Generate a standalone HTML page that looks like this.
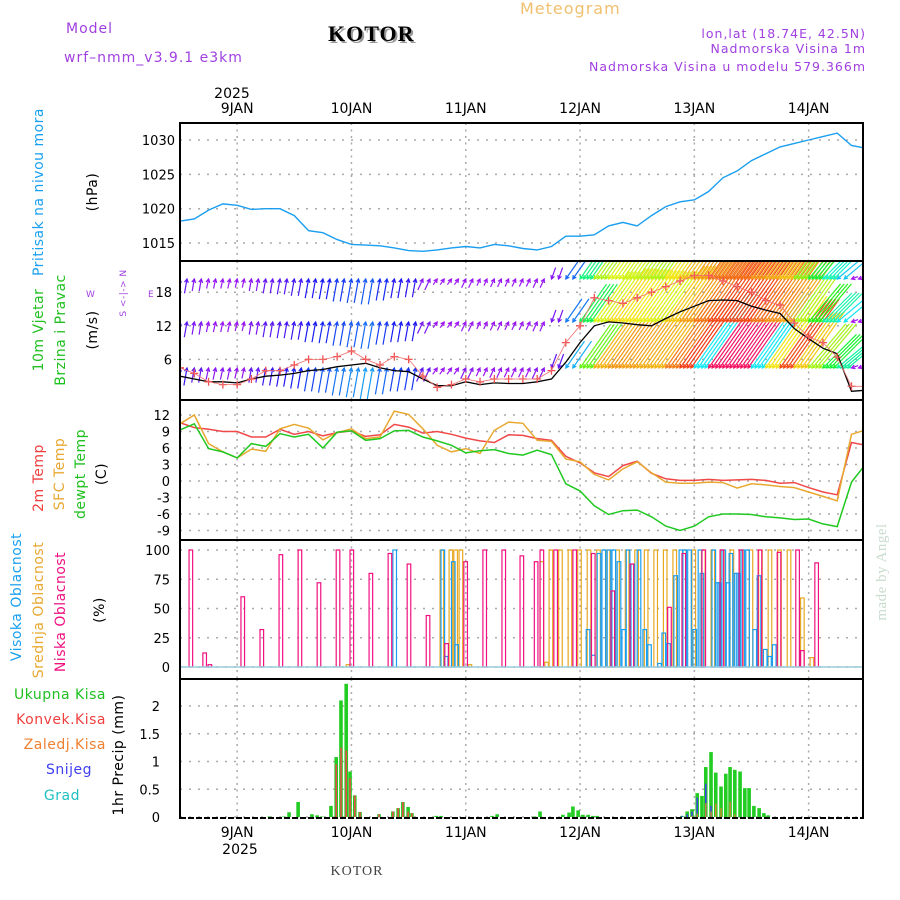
<!DOCTYPE html>
<html><head><meta charset="utf-8"><style>
html,body{margin:0;padding:0;background:#fff;}
svg{display:block;font-family:"DejaVu Sans","Liberation Sans",sans-serif;}
</style></head><body>
<svg id="chart" width="900" height="900" viewBox="0 0 900 900" xmlns="http://www.w3.org/2000/svg">
<g font-size="14" fill="#a040e0" letter-spacing="1">
<text x="66" y="33">Model</text>
<text x="64" y="62">wrf–nmm_v3.9.1  e3km</text>
<text x="330" y="43" font-family="Liberation Serif,serif" font-weight="bold" font-size="22" fill="#999">KOTOR</text>
<text x="328" y="41" font-family="Liberation Serif,serif" font-weight="bold" font-size="22" fill="#000">KOTOR</text>
<text x="520" y="14" font-size="16" fill="#f0c070">Meteogram</text>
<text x="866" y="38" text-anchor="end" font-size="12.5">lon,lat (18.74E, 42.5N)</text>
<text x="866" y="53" text-anchor="end" font-size="12.5">Nadmorska Visina 1m</text>
<text x="866" y="71" text-anchor="end" font-size="12.5">Nadmorska Visina u modelu 579.366m</text>
</g>
<g id="grid"></g>
<g id="marks"></g>
<g id="axes"></g>
<g font-size="14" letter-spacing="0.5">
<text transform="translate(43,192) rotate(-90)" text-anchor="middle" fill="#1aa0f0">Pritisak na nivou mora</text>
<text transform="translate(97,192) rotate(-90)" text-anchor="middle" fill="#000">(hPa)</text>
<text transform="translate(43,330) rotate(-90)" text-anchor="middle" fill="#20c020">10m Vjetar</text>
<text transform="translate(65,330) rotate(-90)" text-anchor="middle" fill="#20c020">Brzina i Pravac</text>
<text transform="translate(97,330) rotate(-90)" text-anchor="middle" fill="#000">(m/s)</text>
<text transform="translate(126,293) rotate(-90)" text-anchor="middle" fill="#a040e0" font-size="9">S &lt;-|-&gt; N</text>
<text x="86" y="297" fill="#a040e0" font-size="9">W</text>
<text x="148" y="297" fill="#a040e0" font-size="9">E</text>
<text transform="translate(43,478) rotate(-90)" text-anchor="middle" fill="#f04040">2m Temp</text>
<text transform="translate(64,474) rotate(-90)" text-anchor="middle" fill="#e8a830">SFC Temp</text>
<text transform="translate(85,474) rotate(-90)" text-anchor="middle" fill="#20c020">dewpt Temp</text>
<text transform="translate(106,474) rotate(-90)" text-anchor="middle" fill="#000">(C)</text>
<text transform="translate(21,597) rotate(-90)" text-anchor="middle" fill="#1aa0f0">Visoka Oblacnost</text>
<text transform="translate(43,610) rotate(-90)" text-anchor="middle" fill="#e8a830">Srednja Oblacnost</text>
<text transform="translate(65,612) rotate(-90)" text-anchor="middle" fill="#f01080">Niska Oblacnost</text>
<text transform="translate(104,610) rotate(-90)" text-anchor="middle" fill="#000">(%)</text>
<text transform="translate(123,755) rotate(-90)" text-anchor="middle" fill="#000">1hr Precip (mm)</text>
<text x="106" y="699" text-anchor="end" fill="#20c020">Ukupna Kisa</text>
<text x="106" y="724" text-anchor="end" fill="#f04040">Konvek.Kisa</text>
<text x="106" y="749" text-anchor="end" fill="#f08030">Zaledj.Kisa</text>
<text x="92" y="774" text-anchor="end" fill="#4040f0">Snijeg</text>
<text x="80" y="800" text-anchor="end" fill="#20c0c0">Grad</text>
<text transform="translate(886,572) rotate(-90)" text-anchor="middle" fill="#c8dccc" font-family="Liberation Serif,serif" font-size="15">made by Angel</text>
<text x="357" y="875" text-anchor="middle" fill="#444" font-family="Liberation Serif,serif" font-size="14" letter-spacing="1">KOTOR</text>
</g>
</svg>
<script>
// ---- data (3-hourly, from 8 JAN 12Z) ----
const dayLabels = ["9JAN","10JAN","11JAN","12JAN","13JAN","14JAN"];
const pressure = [1018.2,1018.5,1019.8,1020.7,1020.5,1019.9,1020.0,1020.0,1019.0,1016.8,1016.5,1015.5,1014.8,1014.7,1014.6,1014.3,1013.9,1013.8,1014.0,1014.3,1014.5,1014.3,1014.8,1014.6,1014.2,1014.0,1014.5,1016.0,1016.0,1016.2,1017.5,1018.0,1017.5,1019.0,1020.3,1021.0,1021.3,1022.5,1024.5,1025.5,1027.0,1028.0,1029.0,1029.5,1030.0,1030.5,1031.0,1029.2,1028.8];
const pressureTicks = [1015,1020,1025,1030];
const windSpeed = [3,2.5,2,2,1.8,2.5,3,3.2,3.5,4,4.2,4.7,5,5.3,4.5,4,3.8,2.5,1.3,1.3,2,1.5,1.8,1.7,1.7,2,2.5,5.5,9,12,12.7,12.5,12.2,12,13.3,14.5,15.5,16.5,16.6,16.5,15.5,14.8,14.2,11.5,9.7,8,7,0.3,0.5];
const windGust = [4.5,3.5,2,1.5,1.5,2.5,4,4,5,6,6,6.5,7.5,6,5,6.5,6,3,1,1.5,2.5,2,2.5,2.5,2.5,2.5,4,9,12,17,16.5,16,17,18,19,20,21,21,20,19,18,16.5,15.7,12.5,10,9,6.4,1.2,1.2];
const windDir = [10,10,12,12,12,10,10,10,10,10,10,10,10,10,10,10,10,25,35,35,25,25,25,25,25,25,200,215,215,215,215,215,215,215,215,215,215,215,215,215,215,215,215,215,220,225,230,250,255];
const windTicks = [6,12,18];
const t2 = [10.6,9.7,9.4,9,9,8,8,9.4,8.5,9,8.2,8.8,9.1,8.1,8.4,10.3,9.8,8.7,9,8.5,7.8,7.3,7,8.4,8.3,7.7,7.4,4.5,3.3,1.5,0.8,2.8,3.6,1.4,0.4,0.1,0.1,0.3,0.1,0.2,0.3,0.1,-0.4,-0.3,-1.2,-2,-2.5,7,6.5];
const tSfc = [10.4,12,6.8,5.3,4.2,5.8,5.4,9.5,10.3,9.6,7.5,8.8,9.5,7.7,8,12.7,12.1,9.5,6.5,5.3,5.9,5,9.2,10.7,10.5,7.4,7.2,4,3.5,1.2,0.2,2.2,3.5,1.5,-0.2,-0.4,-0.4,-0.2,-0.3,-1.3,-0.5,-0.7,-1,-1.2,-2,-2.8,-3.6,8.5,9.3];
const tDew = [9.3,10.4,5.9,5.3,4.2,6.8,6.3,8.6,8,8.5,6,8.9,9.1,7.4,7.7,9.1,9.2,8,7.3,6.5,5.1,5.5,5.7,5,4.7,5.6,4.8,-0.5,-1.8,-4.5,-6.1,-5.4,-5.3,-6.5,-8.2,-9,-8.2,-6.5,-6,-6,-6.1,-6.5,-6.7,-7,-6.9,-7.8,-8.3,-0.2,3.1];
const tempTicks = [-9,-6,-3,0,3,6,9,12];
// cloud cover: hours since start, percent
const lowHours = [1.9,4.8,5.9,12.8,16.8,20.8,24.8,28.8,32.8,35.7,39.7,43.7,47.7,51.7,55.6,59.6,63.6,67.6,71.4,74.4,75.6,78.5,82.5,86.4,90.5,94.5,102.4,105.4,109.6,113.4,117.4,121.4,125.4,129.3,130.3,133.3];
const lowVals  = [100,12,2,60,32,96,100,72,100,100,80,97,88,44,20,90,100,100,95,90,100,100,100,97,65,88,51,97,100,100,100,100,98,100,14,89];
const midHours = [34.9,54.6,56.5,57.5,58.6,60.5,75.6,76.6,77.5,79.5,81.5,83.5,85.5,87.5,89.5,91.5,93.5,95.5,97.5,99.5,101.5,103.5,105.5,107.5,109.5,111.5,113.5,115.5,117.5,119.5,121.5,123.5,125.5,127.5,130.3,132.3];
const midVals  = [2,100,100,100,100,2,90,4,100,100,100,100,100,100,100,100,100,100,100,100,100,100,100,100,100,100,100,100,100,100,100,100,100,100,59,8];
const highHours = [44.7,54.8,55.5,57.0,57.7,85.3,86.4,87.6,88.6,89.7,90.7,91.8,92.8,93.7,94.7,96.0,97.2,98.2,100.3,101.2,102.2,103.7,104.8,105.6,106.6,107.7,108.8,109.2,111.7,112.4,112.8,113.8,114.7,115.3,116.4,116.8,117.8,118.8,120.3,121.2,122.5,123.4,124.4];
const highVals  = [100,100,9,90,19,32,10,97,100,100,100,90,32,100,88,100,32,19,3,29,20,78,100,100,100,32,100,80,100,72,72,100,72,97,80,80,100,100,32,78,15,9,19];
const cloudTicks = [0,25,50,75,100];
// precipitation: hours, mm
const precipHours = [18.7,21.8,22.9,24.8,27.7,28.8,29.8,31.7,32.8,33.8,34.9,35.7,36.7,37.8,41.8,44.7,45.8,46.8,47.9,48.7,53.8,54.8,65.5,66.6,74.5,75.6,80.4,81.7,82.5,83.6,84.6,85.7,86.7,87.6,105.4,106.5,107.5,108.6,109.6,110.4,111.5,112.5,113.6,114.6,115.5,116.5,117.6,118.6,119.5,120.5,121.6,122.6,123.5];
const precipTotal = [0.01,0.01,0.085,0.27,0.05,0.03,0.01,0.2,1.08,2.1,2.4,0.82,0.39,0.09,0.05,0.1,0.16,0.27,0.18,0.07,0.02,0.02,0.02,0.05,0.01,0.1,0.04,0.08,0.19,0.12,0.04,0.04,0.02,0.02,0.02,0.1,0.14,0.43,0.38,0.9,1.17,0.8,0.55,0.78,0.9,0.85,0.82,0.52,0.52,0.2,0.16,0.07,0.03];
const precipConv = [0,0,0,0,0,0,0,0,0.95,1.25,1.2,0.7,0.39,0.09,0.05,0.1,0.16,0.27,0.1,0.07,0,0,0,0,0,0,0,0,0,0,0,0,0,0,0,0,0,0,0,0,0,0,0,0,0,0,0,0,0,0,0,0,0];
const precipSnow = [0,0,0,0,0,0,0,0,0,0,0,0,0,0,0,0,0,0,0,0,0,0,0,0,0,0,0,0,0,0,0,0,0,0,0.02,0.05,0.1,0.35,0,0.6,0.2,0,0,0,0,0,0,0,0,0,0,0,0];
const precipFrz = [0,0,0,0,0,0,0,0,0,0,0,0,0,0,0,0,0,0,0,0,0,0,0,0,0,0,0,0,0,0,0,0,0,0,0,0,0.02,0.06,0,0.25,0.1,0.24,0.16,0,0.27,0.05,0,0,0,0,0,0,0];
const precipTicks = [0,0.5,1,1.5,2];

// ---- layout ----
const NS="http://www.w3.org/2000/svg";
const X0=180, X1=863, PXH=4.7625;
const tx = h => X0 + h*PXH;
const panels = {p:[123,261],w:[261,400],t:[400,540],c:[540,679],r:[679,818]};
const yP = v => 140 + (1030-v)*6.87;
const yW = v => 393 - v*5.6;
const yT = v => 481 - v*5.5;
const yC = v => 667 - v*1.17;
const yR = v => 817 - v*55.5;
const grid=document.getElementById('grid'), marks=document.getElementById('marks'), axes=document.getElementById('axes');
function mk(tag, attrs, parent){const e=document.createElementNS(NS,tag);for(const k in attrs)e.setAttribute(k,attrs[k]);parent.appendChild(e);return e;}
const defs=mk('defs',{},document.getElementById('chart'));
for(const k in panels){const cp=mk('clipPath',{id:'clip-'+k},defs);mk('rect',{x:X0,y:panels[k][0],width:X1-X0,height:panels[k][1]-panels[k][0]},cp);}

const dayX = dayLabels.map((d,i)=>tx(12+24*i));
for(const k in panels){
  dayX.forEach(x=>{const l=mk('line',{x1:x,x2:x,y1:panels[k][0],y2:panels[k][1],stroke:'#aaa','stroke-width':1.5,'stroke-dasharray':'2,4.5'},grid);
    
    });
}
function hgrid(ticks,yf,fmt,labx,fs){
  ticks.forEach(v=>{const y=yf(v);
    const l=mk('line',{x1:X0,x2:X1,y1:y,y2:y,stroke:'#aaa','stroke-width':1.5,'stroke-dasharray':'2,7'},grid);
    
    
    const t=mk('text',{x:labx,y:y+5,'text-anchor':'end','font-size':fs||13,fill:'#000'},axes);
    t.textContent=fmt(v);
    
    });
}
hgrid(pressureTicks,yP,v=>v,175);
hgrid(windTicks,yW,v=>v,172);
hgrid(tempTicks,yT,v=>v,170);
hgrid(cloudTicks,yC,v=>v,170);
hgrid(precipTicks,yR,v=>v,160);

function line(arr,yf,color,name,clip,w){
  const d=arr.map((v,i)=>(i?'L':'M')+tx(3*i).toFixed(1)+','+yf(v).toFixed(1)).join('');
  const p=mk('path',{d:d,fill:'none',stroke:color,'stroke-width':w||1.4,'clip-path':'url(#clip-'+clip+')'},marks);
  
  
}
line(pressure,yP,'#1a9ef0','pressure-line','p');

function windColor(s){
  const stops=[[0,280],[2,275],[4,235],[6,200],[8,150],[10,95],[12,55],[14,35],[16,10],[18,340],[22,320]];
  let h=280;for(let i=0;i<stops.length-1;i++){if(s>=stops[i][0]&&s<=stops[i+1][0]){const f=(s-stops[i][0])/(stops[i+1][0]-stops[i][0]);h=stops[i][1]+(stops[i+1][1]-stops[i][1])*f;}} if(s>22)h=320;
  return 'hsl('+h+',90%,52%)';
}
const rowY=[279,322,368], rowMult=[0.9,0.95,1.1];
const wg=mk('g',{'clip-path':'url(#clip-w)'},marks);


windSpeed.forEach((s,i)=>{
  rowY.forEach((ry,r)=>{
    const sp=s*rowMult[r], a=windDir[i]*Math.PI/180, L=Math.max(7,sp*5.4);
    const dx=Math.sin(a)*L, dy=-Math.cos(a)*L;
    const copies = sp>7?4:2, step = sp>7?3.6:7;
    for(let c=0;c<copies;c++){
      const hx=tx(3*i)+c*step, hy=ry;
      const sx=hx-dx, sy=hy-dy;
      const col=windColor(sp);
      const ah=4, ang=Math.atan2(dy,dx);
      const d='M'+sx.toFixed(1)+','+sy.toFixed(1)+'L'+hx.toFixed(1)+','+hy.toFixed(1)+
        'M'+(hx-ah*Math.cos(ang-0.5)).toFixed(1)+','+(hy-ah*Math.sin(ang-0.5)).toFixed(1)+'L'+hx.toFixed(1)+','+hy.toFixed(1)+
        'L'+(hx-ah*Math.cos(ang+0.5)).toFixed(1)+','+(hy-ah*Math.sin(ang+0.5)).toFixed(1);
      const p=mk('path',{d:d,fill:'none',stroke:col,'stroke-width':1.2},wg);
      
      
    }
  });
});
line(windSpeed,yW,'#000','wind-speed-line','w',1.3);
windGust.forEach((g,i)=>{const x=tx(3*i),y=yW(g);
  const p=mk('path',{d:`M${x-4},${y}h8M${x},${y-4}v8`,stroke:'#f05050','stroke-width':1.3,'clip-path':'url(#clip-w)'},marks);
  
  });
line(windGust,yW,'#f07070','wind-gust-line','w',0.8);

line(t2,yT,'#f04848','t2-line','t',1.5);
line(tSfc,yT,'#e8a830','sfc-temp-line','t',1.5);
line(tDew,yT,'#20c820','dewpt-line','t',1.5);

function clouds(hours,vals,color,name){
  hours.forEach((h,i)=>{const v=vals[i];const y=yC(v);
    const r=mk('rect',{x:tx(h),y:y,width:3.6,height:Math.max(0.5,yC(0)-y),fill:'none',stroke:color,'stroke-width':1.2,'clip-path':'url(#clip-c)'},marks);
    
    });
}
clouds(midHours,midVals,'#e8a820','mid-cloud-bar');
clouds(highHours,highVals,'#1a9ef0','high-cloud-bar');
clouds(lowHours,lowVals,'#f01080','low-cloud-bar');
const cb=mk('line',{x1:X0,x2:X1,y1:yC(0),y2:yC(0),stroke:'#9cd','stroke-width':1.5},marks);



function pbars(vals,color,w,name){
  precipHours.forEach((h,i)=>{const v=vals[i]; if(!v)return; const y=yR(v);
    const r=mk('rect',{x:tx(h)-w/2,y:y,width:w,height:yR(0)-y,fill:color},marks);
    
    });
}
pbars(precipTotal,'#22cc22',3.6,'total-rain-bar');
pbars(precipConv,'#f04848',1.5,'conv-rain-bar');
pbars(precipSnow,'#4040f0',1.5,'snow-bar');
pbars(precipFrz,'#f08030',1.2,'freezing-rain-bar');

[123,261,400,540,679].forEach(y=>{const l=mk('line',{x1:X0,x2:X1,y1:y,y2:y,stroke:'#000','stroke-width':2},axes);
  
  });
const bl=mk('line',{x1:X0,x2:X1,y1:818,y2:818,stroke:'#000','stroke-width':2,'stroke-dasharray':'6,2'},axes);


[X0,X1].forEach(x=>{const l=mk('line',{x1:x,x2:x,y1:122,y2:819,stroke:'#000','stroke-width':2},axes);
  
  });
dayLabels.forEach((d,i)=>{const x=dayX[i];
  const t=mk('text',{x:x,y:113,'text-anchor':'middle','font-size':14,fill:'#000'},axes);t.textContent=d;
  
  
  const b=mk('text',{x:x,y:837,'text-anchor':'middle','font-size':14,fill:'#000'},axes);b.textContent=d;
  
  });
const y1=mk('text',{x:232,y:98,'text-anchor':'middle','font-size':14,fill:'#000'},axes);y1.textContent='2025';


const y2=mk('text',{x:240,y:854,'text-anchor':'middle','font-size':14,fill:'#000'},axes);y2.textContent='2025';


</script>
</body></html>
